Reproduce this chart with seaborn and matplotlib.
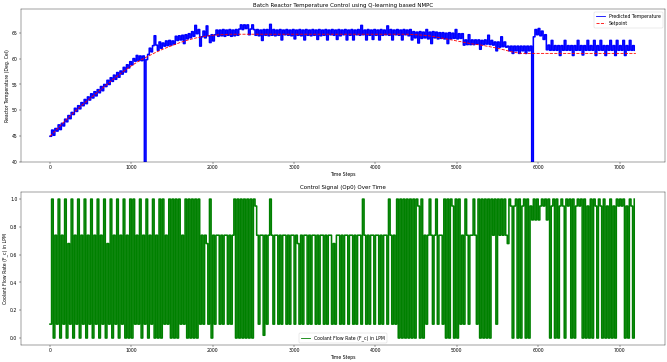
import matplotlib
matplotlib.use('Agg')
import numpy as np
import pandas as pd
import matplotlib.pyplot as plt
import seaborn as sns

# time axis: one reading every 20 simulation steps
step_grid = np.arange(0, 7200, 20)

# predicted reactor temperature (deg C)
predicted_temp = [
    45.0, 46.2, 45.2, 46.5, 46.0, 47.2, 46.3, 47.5, 47.0, 48.3, 47.8, 49.0, 48.4, 49.6, 49.2, 50.4, 49.8, 50.9, 50.3, 51.5,
    50.9, 52.1, 51.3, 52.6, 52.0, 53.2, 52.4, 53.6, 52.8, 54.0, 53.4, 54.6, 53.8, 55.0, 54.6, 55.8, 55.0, 56.3, 55.6, 56.8,
    56.0, 57.3, 56.4, 57.6, 57.0, 58.3, 57.4, 58.8, 58.2, 59.4, 58.8, 60.0, 59.5, 60.6, 59.6, 60.5, 59.6, 60.5, 38.0, 59.8,
    60.8, 62.0, 61.3, 62.5, 64.4, 62.6, 61.6, 63.2, 62.0, 63.0, 62.4, 63.4, 62.5, 63.5, 62.6, 63.4, 62.8, 64.3, 63.5, 64.4,
    63.6, 64.5, 62.9, 64.6, 63.8, 64.8, 64.0, 65.2, 64.3, 66.4, 64.8, 65.6, 62.4, 64.2, 65.3, 64.0, 66.3, 64.4, 63.1, 64.6,
    63.4, 64.6, 65.5, 64.3, 65.5, 64.4, 65.6, 64.3, 65.5, 64.5, 65.6, 64.3, 65.5, 64.4, 65.6, 64.5, 65.7, 66.5, 65.6, 66.5,
    65.8, 66.5, 64.6, 65.7, 66.5, 65.6, 64.5, 65.6, 64.4, 65.5, 63.5, 65.6, 64.5, 65.6, 64.4, 66.6, 64.5, 65.6, 64.4, 65.5,
    64.5, 65.6, 63.6, 65.5, 64.6, 65.6, 64.5, 65.5, 64.4, 65.6, 63.8, 65.5, 64.5, 65.6, 64.4, 65.5, 63.6, 65.6, 64.5, 65.5,
    64.4, 65.6, 64.5, 65.5, 63.7, 65.6, 64.4, 65.5, 64.5, 65.6, 63.6, 65.5, 64.6, 65.6, 64.5, 65.5, 63.7, 65.6, 64.4, 65.5,
    64.6, 65.6, 63.6, 65.5, 64.5, 65.6, 63.6, 65.5, 64.6, 65.6, 64.5, 66.4, 64.6, 65.5, 63.6, 65.6, 64.5, 65.5, 63.7, 65.6,
    64.5, 65.5, 63.6, 65.6, 64.5, 65.5, 64.6, 66.3, 64.5, 65.6, 63.6, 65.5, 64.6, 65.6, 64.5, 65.5, 63.6, 65.6, 64.6, 65.5,
    64.4, 65.6, 63.6, 65.2, 64.0, 65.1, 63.0, 65.2, 63.9, 65.1, 64.0, 65.6, 63.8, 65.1, 62.9, 65.2, 64.0, 65.1, 63.8, 65.0,
    63.9, 65.0, 63.8, 64.9, 62.9, 65.0, 63.8, 64.9, 63.9, 65.6, 63.8, 64.8, 63.9, 64.8, 62.6, 63.6, 62.7, 64.6, 62.7, 63.6,
    62.7, 63.6, 62.8, 63.6, 61.8, 63.5, 62.7, 63.6, 62.8, 64.5, 62.7, 63.5, 62.6, 63.2, 61.5, 63.2, 62.2, 64.2, 62.3, 63.2,
    62.2, 62.4, 61.5, 62.4, 61.0, 62.4, 61.5, 62.4, 61.0, 62.4, 61.5, 62.4, 61.0, 62.4, 61.5, 62.4, 38.0, 64.2, 65.6, 64.6,
    65.8, 64.4, 65.3, 63.7, 64.6, 61.7, 62.6, 61.6, 63.5, 61.6, 62.5, 61.6, 62.5, 60.6, 62.5, 61.6, 63.5, 61.6, 62.5, 61.6,
    62.5, 60.6, 62.5, 61.6, 63.5, 61.6, 62.5, 60.7, 62.5, 61.6, 63.5, 61.6, 62.5, 61.6, 63.5, 60.6, 62.5, 61.6, 63.5, 61.6,
    62.5, 60.6, 62.5, 61.6, 63.5, 61.6, 62.5, 60.6, 63.5, 61.6, 62.5, 61.6, 63.5, 60.6, 62.5, 61.6, 63.5, 61.6, 62.5, 61.6,
]

# setpoint trajectory, every 100 steps
setpoint_steps = np.arange(0, 7300, 100)
setpoint_temp = [
    45.0, 46.6, 48.2, 49.7, 51.1, 52.4, 53.7, 55.0, 56.3, 57.5, 58.6, 59.6, 60.4, 61.2, 61.9, 62.5,
    63.1, 63.6, 64.0, 64.3, 64.5, 64.6, 64.7,
    64.7, 64.7, 64.7, 64.7, 64.7, 64.7, 64.7, 64.7, 64.7, 64.7, 64.7,
    64.7, 64.7, 64.7, 64.7, 64.7, 64.7, 64.7, 64.7, 64.7, 64.7, 64.7,
    64.6, 64.5, 64.3, 64.0, 63.7, 63.4, 63.1, 62.8, 62.6, 62.3, 62.0, 61.6, 61.2, 61.0,
    61.0, 61.0, 61.0, 61.0, 61.0, 61.0, 61.0, 61.0, 61.0, 61.0, 61.0, 61.0, 61.0, 61.0,
]

# coolant flow rate (LPM), same 20-step grid
coolant_flow = [
    0.1, 1.0, 0.0, 0.74, 0.1, 1.0, 0.0, 0.74, 0.1, 1.0, 0.0, 0.68, 0.1, 1.0, 0.0, 0.74, 0.1, 1.0, 0.0, 0.74,
    0.1, 1.0, 0.0, 0.74, 0.1, 1.0, 0.0, 0.74, 0.1, 1.0, 0.0, 0.74, 0.1, 1.0, 0.0, 0.68, 0.1, 1.0, 0.0, 0.74,
    0.1, 1.0, 0.0, 0.74, 0.1, 1.0, 0.0, 0.74, 0.0, 1.0, 0.0, 1.0, 0.1, 0.74, 0.1, 1.0, 0.0, 0.74, 0.1, 1.0,
    0.0, 0.74, 0.1, 1.0, 0.0, 0.74, 0.0, 1.0, 0.0, 1.0, 0.1, 0.74, 0.1, 1.0, 0.0, 1.0, 0.0, 1.0, 0.0, 1.0,
    0.1, 0.74, 0.1, 1.0, 0.0, 1.0, 0.0, 1.0, 0.0, 1.0, 0.0, 1.0, 0.1, 0.74, 0.1, 0.74, 0.68, 0.1, 1.0, 0.0,
    0.74, 0.1, 0.74, 0.74, 0.1, 0.74, 0.1, 0.74, 0.74, 0.1, 0.74, 0.1, 0.74, 1.0, 0.0, 1.0, 0.0, 1.0, 0.0, 1.0,
    0.0, 1.0, 0.0, 1.0, 0.0, 1.0, 0.95, 0.74, 0.1, 0.74, 0.74, 0.02, 0.74, 0.1, 0.74, 1.0, 0.74, 0.1, 0.74, 0.74,
    0.1, 0.74, 0.1, 0.74, 0.74, 0.1, 0.74, 0.1, 0.74, 0.74, 0.1, 0.74, 0.68, 0.1, 0.74, 0.1, 0.74, 0.74, 0.1, 0.74,
    0.1, 0.74, 0.74, 0.1, 0.74, 0.1, 0.74, 0.74, 0.1, 0.74, 0.1, 0.74, 0.74, 0.1, 0.68, 0.1, 0.74, 0.74, 0.1, 0.74,
    0.1, 0.74, 0.74, 0.1, 0.74, 0.74, 0.1, 0.74, 0.1, 0.74, 0.74, 0.1, 1.0, 0.74, 0.1, 0.74, 0.1, 0.74, 0.74, 0.1,
    0.74, 0.74, 0.1, 0.74, 0.1, 0.74, 0.74, 0.1, 1.0, 0.74, 0.1, 0.74, 0.1, 1.0, 0.0, 1.0, 0.0, 1.0, 0.0, 1.0,
    0.0, 1.0, 0.0, 1.0, 0.0, 1.0, 0.95, 0.0, 1.0, 0.0, 0.74, 0.1, 0.74, 1.0, 0.74, 0.1, 0.74, 1.0, 0.1, 0.74,
    0.74, 0.1, 1.0, 0.0, 1.0, 0.0, 1.0, 0.95, 0.0, 1.0, 0.0, 1.0, 0.1, 0.74, 0.1, 1.0, 0.74, 0.1, 0.74, 0.74,
    1.0, 0.74, 0.1, 1.0, 0.0, 1.0, 0.0, 1.0, 0.0, 1.0, 0.0, 1.0, 0.74, 1.0, 0.1, 1.0, 0.74, 1.0, 0.74, 1.0,
    0.74, 0.68, 1.0, 0.95, 0.0, 0.95, 1.0, 0.0, 1.0, 0.0, 0.95, 1.0, 0.0, 1.0, 0.0, 0.95, 0.85, 1.0, 0.85, 1.0,
    0.85, 0.95, 1.0, 0.95, 1.0, 0.85, 1.0, 0.0, 0.95, 1.0, 0.0, 1.0, 0.0, 0.95, 1.0, 0.95, 0.0, 1.0, 0.95, 1.0,
    0.0, 1.0, 0.0, 0.95, 1.0, 0.95, 1.0, 0.0, 1.0, 0.0, 0.95, 0.0, 1.0, 0.0, 1.0, 0.95, 0.0, 1.0, 0.95, 0.0,
    1.0, 0.0, 0.95, 0.0, 1.0, 0.0, 0.95, 0.0, 1.0, 0.95, 1.0, 0.95, 1.0, 0.0, 0.95, 0.0, 1.0, 0.95, 0.0, 1.0,
]

assert len(predicted_temp) == len(step_grid)
assert len(coolant_flow) == len(step_grid)
assert len(setpoint_temp) == len(setpoint_steps)

temp_df = pd.DataFrame({'step': step_grid, 'temp': predicted_temp, 'flow': coolant_flow})
sp_df = pd.DataFrame({'step': setpoint_steps, 'setpoint': setpoint_temp})

dpi = 100 / 3
fig, (ax1, ax2) = plt.subplots(2, 1, figsize=(20.012, 10.862), dpi=dpi)
fig.subplots_adjust(left=0.031, right=0.997, top=0.974, bottom=0.047, hspace=0.196)

# snap=False: pixel snapping otherwise thins out the dense step transitions
sns.lineplot(data=temp_df, x='step', y='temp', ax=ax1, color='blue', linewidth=3.4,
             estimator=None, errorbar=None, drawstyle='steps-post', snap=False,
             label='Predicted Temperature')
sns.lineplot(data=sp_df, x='step', y='setpoint', ax=ax1, color='red', linewidth=1.8,
             estimator=None, errorbar=None, linestyle='--', label='Setpoint')
ax1.set_xlim(-360, 7559)
ax1.set_ylim(40, 69.5)
ax1.set_yticks([40, 45, 50, 55, 60, 65])
ax1.set_xticks(range(0, 8000, 1000))
ax1.set_title('Batch Reactor Temperature Control using Q-learning based NMPC')
ax1.set_xlabel('Time Steps')
ax1.set_ylabel('Reactor Temperature (Deg. Cel)')
leg1 = ax1.legend(loc='upper right')
for h in leg1.get_lines():
    h.set_linewidth(1.8)

sns.lineplot(data=temp_df, x='step', y='flow', ax=ax2, color='green', linewidth=3.4,
             estimator=None, errorbar=None, drawstyle='steps-post', snap=False,
             label='Coolant Flow Rate (F_c) in LPM')
ax2.set_xlim(-360, 7559)
ax2.set_ylim(-0.05, 1.05)
ax2.set_xticks(range(0, 8000, 1000))
ax2.set_title('Control Signal (Op0) Over Time')
ax2.set_xlabel('Time Steps')
ax2.set_ylabel('Coolant Flow Rate (F_c) in LPM')
leg2 = ax2.legend(loc='lower center')
for h in leg2.get_lines():
    h.set_linewidth(1.8)

fig.savefig('out.png', dpi=dpi)
plt.close(fig)
